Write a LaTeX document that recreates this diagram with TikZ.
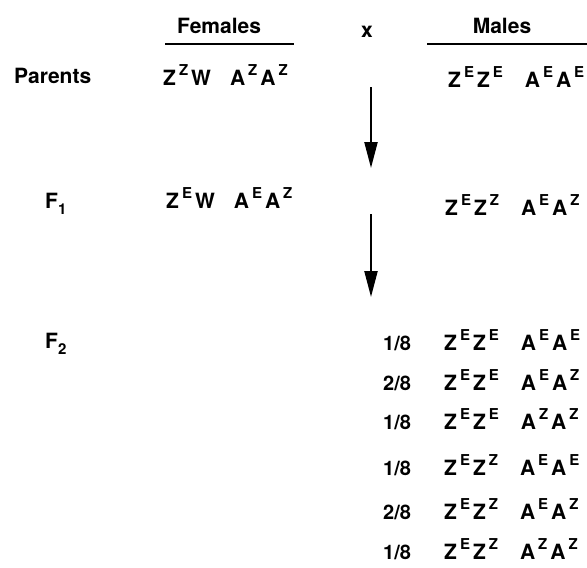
\documentclass[tikz,border=0pt]{standalone}
\usepackage{fontspec}
\setmainfont{TeX Gyre Heros}
\usetikzlibrary{arrows.meta}
\newcommand\al[2]{#1\hspace{3pt}\raisebox{9.5pt}{\fontsize{15}{15}\selectfont #2}\hspace{3pt}}
\newcommand\gen[2]{F\raisebox{-6pt}{\fontsize{15}{15}\selectfont #2}}
\newcommand\gap{\hspace{19pt}}
\begin{document}
\begin{tikzpicture}[
        x=1pt, y=-1pt,
        label/.style={
            anchor=base west,
            inner sep=0pt,
            font=\fontsize{21}{25}\selectfont\bfseries
        },
        title/.style={
            anchor=base,
            inner sep=0pt,
            font=\fontsize{21}{25}\selectfont\bfseries
        },
        frac/.style={
            anchor=base west,
            inner sep=0pt,
            font=\fontsize{20}{24}\selectfont\bfseries
        },
        rule/.style={line width=2pt},
        arrow/.style={-{Triangle[length=26pt,width=13pt]}, line width=2.2pt}
    ]
        \useasboundingbox (0,0) rectangle (587,568);

        \node[title] (fem) at (219,33) {Females};
        \node[title] (cross) at (367,37) {x};
        \node[title] (mal) at (502,33) {Males};
        \draw[rule] (165,44) -- (294,44);
        \draw[rule] (427,44) -- (587,44);

        \node[label] (par) at (14,83) {Parents};
        \node[label] (parf) at (163,85) {\al{Z}{Z}W\gap\al{A}{Z}\al{A}{Z}};
        \node[label] (parm) at (448,87) {\al{Z}{E}\al{Z}{E}\gap\al{A}{E}\al{A}{E}};

        \node[label] (fone) at (45,208) {\gen{F}{1}};
        \node[label] (fonef) at (166,208) {\al{Z}{E}W\gap\al{A}{E}\al{A}{Z}};
        \node[label] (fonem) at (445,215) {\al{Z}{E}\al{Z}{Z}\gap\al{A}{E}\al{A}{Z}};

        \node[label] (ftwo) at (45,348) {\gen{F}{2}};
        \node[frac] (ra) at (383,350) {1/8};
        \node[label] (ga) at (444,350) {\al{Z}{E}\al{Z}{E}\gap\al{A}{E}\al{A}{E}};
        \node[frac] (rb) at (383,390) {2/8};
        \node[label] (gb) at (444,390) {\al{Z}{E}\al{Z}{E}\gap\al{A}{E}\al{A}{Z}};
        \node[frac] (rc) at (383,429) {1/8};
        \node[label] (gc) at (444,429) {\al{Z}{E}\al{Z}{E}\gap\al{A}{Z}\al{A}{Z}};
        \node[frac] (rd) at (383,475) {1/8};
        \node[label] (gd) at (444,475) {\al{Z}{E}\al{Z}{Z}\gap\al{A}{E}\al{A}{E}};
        \node[frac] (re) at (383,519) {2/8};
        \node[label] (ge) at (444,519) {\al{Z}{E}\al{Z}{Z}\gap\al{A}{E}\al{A}{Z}};
        \node[frac] (rf) at (383,559) {1/8};
        \node[label] (gf) at (444,559) {\al{Z}{E}\al{Z}{Z}\gap\al{A}{Z}\al{A}{Z}};

        \coordinate (aone) at (371,87);
        \coordinate (bone) at (371,168);
        \coordinate (atwo) at (371,214);
        \coordinate (btwo) at (371,297);
        \draw[arrow] (aone) -- (bone);
        \draw[arrow] (atwo) -- (btwo);

    \end{tikzpicture}
\end{document}
